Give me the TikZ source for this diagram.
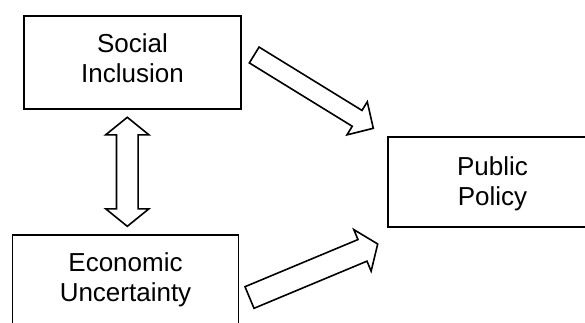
\documentclass[tikz,border=0pt]{standalone}
\usepackage{fontspec}
\setmainfont{Liberation Sans}
\usetikzlibrary{calc}
\tikzset{
  box/.style={draw, line width=1.6pt, rectangle, inner sep=0pt, fill=white},
  txt/.style={align=center, inner sep=0pt, font=\fontsize{26}{30}\selectfont},
  arrowshape/.style={draw, line width=1.6pt, line join=miter, fill=white}
}
% tail, tip, shaft half width, head half width, head length
\newcommand\blockarrow[5]{%
  \coordinate (neck) at ($(#2)!#5!(#1)$);
  \draw[arrowshape] ($(#1)!#3!90:(#2)$) -- ($(neck)!#3!-90:(#1)$) -- ($(neck)!#4!-90:(#1)$) -- (#2)
    -- ($(neck)!#4!90:(#1)$) -- ($(neck)!#3!90:(#1)$) -- ($(#1)!#3!-90:(#2)$) -- cycle;
}
% tip a, tip b, shaft half width, head half width, head length
\newcommand\dblarrow[5]{%
  \coordinate (na) at ($(#1)!#5!(#2)$);
  \coordinate (nb) at ($(#2)!#5!(#1)$);
  \draw[arrowshape] (#1) -- ($(na)!#4!90:(#2)$) -- ($(na)!#3!90:(#2)$) -- ($(nb)!#3!-90:(#1)$)
    -- ($(nb)!#4!-90:(#1)$) -- (#2) -- ($(nb)!#4!90:(#1)$) -- ($(nb)!#3!90:(#1)$)
    -- ($(na)!#3!-90:(#2)$) -- ($(na)!#4!-90:(#2)$) -- cycle;
}
\begin{document}
\begin{tikzpicture}[x=1pt, y=-1pt]
  \useasboundingbox (0,0) rectangle (585,322);
  \clip (0,0) rectangle (585,322);
  % boxes
  \node[box, minimum width=217pt, minimum height=93pt] (si) at (132.5,62.5) {};
  \node[txt] (sit) at (132.5,57.8) {Social\\Inclusion};
  \node[box, minimum width=226pt, minimum height=90pt] (eu) at (125.5,280) {};
  \node[txt] (eut) at (125.5,280) {Economic\\Uncertainty};
  \node[box, minimum width=209pt, minimum height=90pt] (pp) at (492.5,182) {};
  \node[txt] (ppt) at (492.5,184) {Public\\Policy};
  % arrow end points
  \coordinate (a1) at (254.2,55);
  \coordinate (b1) at (373.3,128.3);
  \coordinate (a2) at (249.5,297.5);
  \coordinate (b2) at (377.7,244);
  \coordinate (t1) at (127.3,117.3);
  \coordinate (t2) at (127.3,226.3);
  \blockarrow{a1}{b1}{9.3pt}{19.4pt}{19pt}
  \blockarrow{a2}{b2}{11.7pt}{22.5pt}{16.5pt}
  \dblarrow{t1}{t2}{10.8pt}{21.6pt}{17.5pt}
\end{tikzpicture}
\end{document}
